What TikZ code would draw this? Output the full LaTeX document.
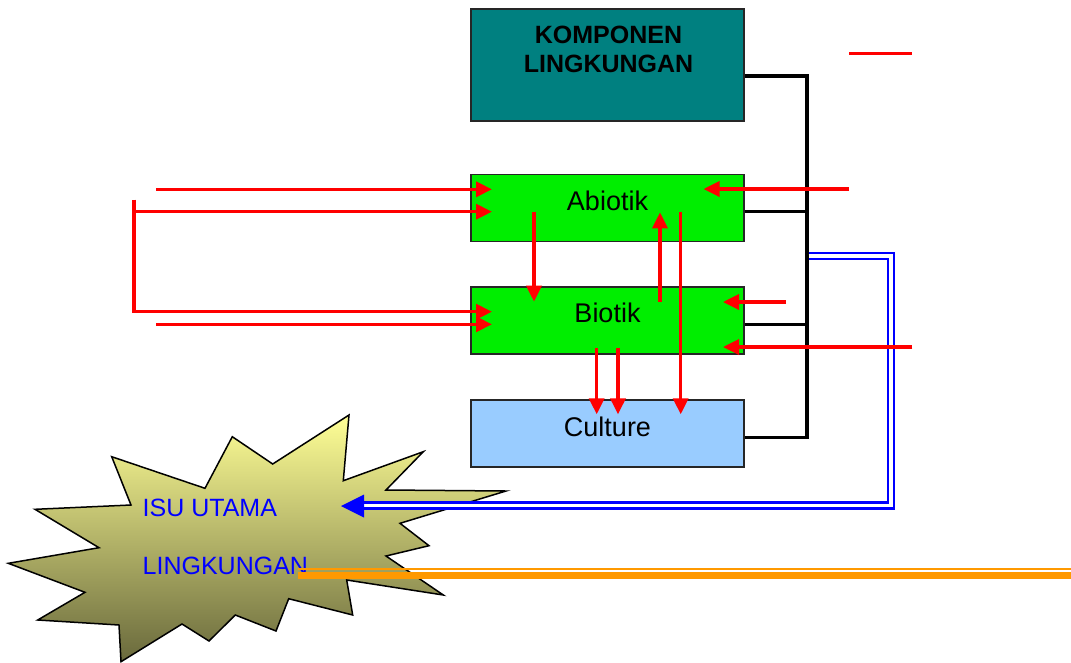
\documentclass[tikz,border=0pt]{standalone}
\usepackage{fontspec}
\setmainfont{Liberation Sans}
\usetikzlibrary{arrows.meta}
\definecolor{tealbox}{RGB}{0,128,128}
\definecolor{greenbox}{RGB}{0,238,0}
\definecolor{bluebox}{RGB}{153,204,255}
\definecolor{burstTop}{RGB}{255,255,150}
\definecolor{burstBot}{RGB}{105,105,60}
\definecolor{orangeline}{RGB}{255,153,0}
\definecolor{redline}{RGB}{255,0,0}
\definecolor{blueline}{RGB}{0,0,255}
\begin{document}
\begin{tikzpicture}[x=1pt,y=-1pt,
  box/.style={draw=black!85,line width=1.6pt,minimum width=273pt,inner sep=0pt},
  boxtext/.style={anchor=base,inner sep=0pt,font=\fontsize{27}{32}\selectfont},
  titletext/.style={anchor=base,inner sep=0pt,font=\fontsize{25}{29}\selectfont\bfseries},
  isutext/.style={anchor=base west,inner sep=0pt,text=blueline,font=\fontsize{25}{29}\selectfont},
  busline/.style={draw=black,line width=3.4pt},
  rline/.style={draw=redline,line width=3.4pt},
  rarrow/.style={draw=redline,line width=3.4pt,-{Triangle[length=16pt,width=15pt]}},
  blued/.style={draw=blueline,line width=2.2pt,double=white,double distance=3.8pt}]
\useasboundingbox (0,0) rectangle (1071,662);

% starburst
\shadedraw[top color=burstTop,bottom color=burstBot,draw=black,line width=1.5pt,line join=miter]
 (111.7,456.7) -- (205,488.3) -- (232.3,436.7) -- (272.7,464) -- (349,415) -- (343.3,480.7)
 -- (423.3,451.7) -- (386,490) -- (506,491) -- (400,523.3) -- (429,545.7) -- (386,556)
 -- (443.3,595) -- (346.7,580) -- (352.7,615) -- (288.7,598.7) -- (276,631) -- (235.3,615)
 -- (209,641) -- (182,624) -- (121,661.7) -- (119,625) -- (37.7,620) -- (85,592.3)
 -- (8.3,563.3) -- (99,547.7) -- (35,509.3) -- (131,505) -- cycle;
\node[isutext] (isu1) at (142.5,516) {ISU UTAMA};
\node[isutext] (isu2) at (142.5,574) {LINGKUNGAN};

% boxes
\node[box,fill=tealbox,minimum height=112pt] (komp) at (607.5,65) {};
\node[titletext] (kompA) at (608.5,43) {KOMPONEN};
\node[titletext] (kompB) at (608.5,72) {LINGKUNGAN};
\node[box,fill=greenbox,minimum height=67pt] (abiotik) at (607.5,208) {};
\node[boxtext] (abiotikT) at (607.5,210) {Abiotik};
\node[box,fill=greenbox,minimum height=67pt] (biotik) at (607.5,320.7) {};
\node[boxtext] (biotikT) at (607.5,322.7) {Biotik};
\node[box,fill=bluebox,minimum height=67pt] (culture) at (607.5,433.3) {};
\node[boxtext] (cultureT) at (607.5,436) {Culture};

% black bus
\coordinate (busTop) at (807,76);
\coordinate (busBot) at (807,437.3);
\draw[busline] ([yshift=-11pt]komp.east) -- (busTop) -- (busBot) -- ([yshift=-4pt]culture.east);
\coordinate (busA) at (807,211.7);
\coordinate (busB) at (807,324.3);
\draw[busline] ([yshift=-3.7pt]abiotik.east) -- (busA);
\draw[busline] ([yshift=-3.6pt]biotik.east) -- (busB);

% blue double connector
\coordinate (bl0) at (808.5,256);
\coordinate (bl1) at (891,256);
\coordinate (bl2) at (891,505.5);
\coordinate (bl3) at (360,505.5);
\coordinate (blTip) at (341,506);
\draw[blued,line join=miter] (bl0) -- (bl1) -- (bl2) -- (bl3);
\fill[blueline] (blTip) -- (364,494.5) -- (364,517.5) -- cycle;

% orange double line
\coordinate (o1a) at (298,569);
\coordinate (o1b) at (1071,569);
\coordinate (o2a) at (298,575.5);
\coordinate (o2b) at (1071,575.5);
\draw[draw=orangeline,line width=2.2pt] (o1a) -- (o1b);
\draw[draw=orangeline,line width=7.5pt] (o2a) -- (o2b);

% red legend line
\coordinate (lg1) at (849.3,53.7);
\coordinate (lg2) at (912.3,53.7);
\draw[rline] (lg1) -- (lg2);

% red arrows from the right
\coordinate (rA0) at (849,189);
\coordinate (rA1) at (703.5,189);
\draw[rarrow] (rA0) -- (rA1);
\coordinate (rB0) at (786,302);
\coordinate (rB1) at (723,302);
\draw[rarrow] (rB0) -- (rB1);
\coordinate (rC0) at (912.3,347);
\coordinate (rC1) at (723,347);
\draw[rarrow] (rC0) -- (rC1);

% red arrows from the left
\coordinate (lA0) at (156,189.3);
\coordinate (lA1) at (492,189.3);
\draw[rarrow] (lA0) -- (lA1);
\coordinate (lB0) at (134,211.7);
\coordinate (lB1) at (492,211.7);
\draw[rarrow] (lB0) -- (lB1);
\coordinate (lV0) at (134,199.5);
\coordinate (lV1) at (134,313.4);
\draw[rline] (lV0) -- (lV1);
\coordinate (lC0) at (132.3,311.7);
\coordinate (lC1) at (492,311.7);
\draw[rarrow] (lC0) -- (lC1);
\coordinate (lD0) at (156,324.3);
\coordinate (lD1) at (492,324.3);
\draw[rarrow] (lD0) -- (lD1);

% vertical red arrows
\coordinate (v1a) at (534,211.7);
\coordinate (v1b) at (534,301.7);
\draw[rarrow] (v1a) -- (v1b);
\coordinate (v2a) at (660,301.7);
\coordinate (v2b) at (660,212.3);
\draw[rarrow] (v2a) -- (v2b);
\coordinate (v3a) at (680.7,211.7);
\coordinate (v3b) at (680.7,414.3);
\draw[rarrow] (v3a) -- (v3b);
\coordinate (v4a) at (596.7,347.7);
\coordinate (v4b) at (596.7,414.3);
\draw[rarrow] (v4a) -- (v4b);
\coordinate (v5a) at (618,347.7);
\coordinate (v5b) at (618,414.3);
\draw[rarrow] (v5a) -- (v5b);
\end{tikzpicture}
\end{document}
